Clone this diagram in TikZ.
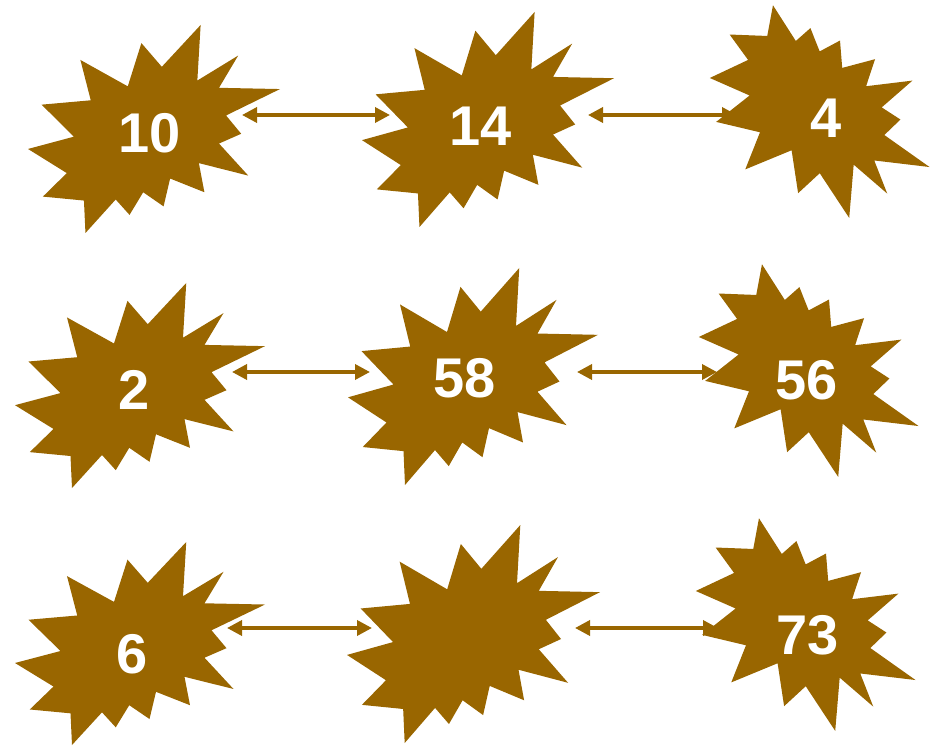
\documentclass[tikz,border=0pt]{standalone}
\usepackage{fontspec}
\setmainfont{Liberation Sans}
\usetikzlibrary{arrows.meta}
\definecolor{starbrown}{RGB}{153,102,0}
\tikzset{
  starfill/.style={fill=starbrown, draw=none},
  numlbl/.style={text=white, font=\fontsize{56}{56}\selectfont\bfseries, inner sep=0pt, anchor=center},
  link/.style={draw=starbrown, line width=3.5pt, {Triangle[length=15pt,width=15pt]}-{Triangle[length=15pt,width=15pt]}},
}
\newcommand\explosionpath{(0.531,0.201) -- (0.685,0) -- (0.672,0.267) -- (0.834,0.147) -- (0.758,0.302) -- (1,0.308)
 -- (0.786,0.435) -- (0.846,0.523) -- (0.758,0.570) -- (0.874,0.724) -- (0.678,0.664)
 -- (0.700,0.804) -- (0.564,0.738) -- (0.538,0.872) -- (0.457,0.804) -- (0.403,0.913)
 -- (0.348,0.839) -- (0.228,1) -- (0.222,0.844) -- (0.059,0.825) -- (0.154,0.712)
 -- (0,0.596) -- (0.182,0.537) -- (0.054,0.383) -- (0.249,0.362) -- (0.208,0.168)
 -- (0.396,0.295) -- (0.450,0.087) -- cycle}
% left and middle columns: #1,#2 top-left corner, #3 width, #4 height
\newcommand\starP[4]{\path[starfill, shift={(#1,#2)}, xscale=#3, yscale=#4] \explosionpath;}
% right column: same shape flipped upside down and turned 8 degrees clockwise
% #1,#2 centre, #3 width, #4 height
\newcommand\starQ[4]{\path[starfill, shift={(#1,#2)}, rotate=-8, shift={(-#3/2,#4/2)}, xscale=#3, yscale=-#4] \explosionpath;}
\begin{document}
\begin{tikzpicture}[x=1pt,y=-1pt]
\useasboundingbox (0,0) rectangle (930,746);
\clip (0,0) rectangle (930,746);
% stars
\starP{28}{25}{252}{208}
\starP{362}{12}{252}{215}
\starQ{821}{113}{230}{200}
\starP{15}{283}{250}{205}
\starP{348}{268}{250}{217}
\starQ{810}{372}{230}{200}
\starP{15}{542}{250}{203}
\starP{347}{525}{253}{218}
\starQ{807}{626}{230}{200}
% labels
\node[numlbl] (n10) at (150,133) {10};
\node[numlbl] (n14) at (481,126) {14};
\node[numlbl] (n4)  at (826,118) {4};
\node[numlbl] (n2)  at (134,390) {2};
\node[numlbl] (n58) at (465,378) {58};
\node[numlbl] (n56) at (807,380) {56};
\node[numlbl] (n6)  at (132,654) {6};
\node[numlbl] (n73) at (808,635) {73};
% arrow end points on the star edges
\coordinate (a-e) at (242,115);
\coordinate (b-w) at (390,115);
\coordinate (b-e) at (588,115);
\coordinate (c-w) at (737,115);
\coordinate (d-e) at (232,372);
\coordinate (e-w) at (370,372);
\coordinate (e-e) at (577,372);
\coordinate (f-w) at (717,372);
\coordinate (g-e) at (227,628);
\coordinate (h-w) at (372,628);
\coordinate (h-e) at (575,628);
\coordinate (i-w) at (718,628);
% connectors
\draw[link] (a-e) -- (b-w);
\draw[link] (b-e) -- (c-w);
\draw[link] (d-e) -- (e-w);
\draw[link] (e-e) -- (f-w);
\draw[link] (g-e) -- (h-w);
\draw[link] (h-e) -- (i-w);
\end{tikzpicture}
\end{document}
